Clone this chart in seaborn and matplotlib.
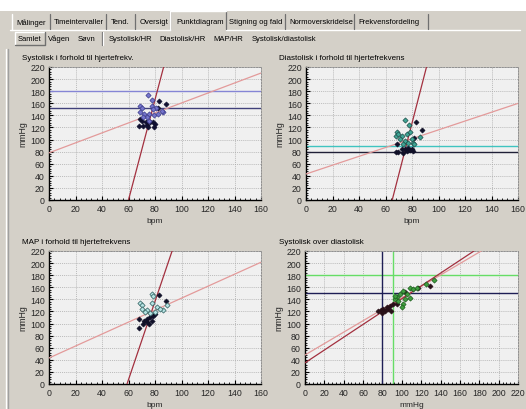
import numpy as np
import pandas as pd
import matplotlib
matplotlib.use("Agg")
import matplotlib.pyplot as plt
from matplotlib.ticker import MultipleLocator
import seaborn as sns

# ---------------- data ----------------
tabs_row1 = ["Målinger", "Timeintervaller", "Tend.", "Oversigt", "Punktdiagram",
             "Stigning og fald", "Normoverskridelse", "Frekvensfordeling"]
tabs_row2 = ["Samlet", "Vågen", "Søvn", "Systolisk/HR", "Diastolisk/HR", "MAP/HR",
             "Systolisk/diastolisk"]

titles = ["Systolisk i forhold til hjertefrekv.", "Diastolisk i forhold til hjertefrekvens",
          "MAP i forhold til hjertefrekvens", "Systolisk over diastolisk"]
xlabels = ["bpm", "bpm", "bpm", "mmHg"]
ylabels = ["mmHg", "mmHg", "mmHg", "mmHg"]
xmaxes = [160, 160, 160, 220]
ymaxes = [220, 220, 220, 220]

# Panel 1: systolic vs HR
sys_hr_a_x = [75, 78, 69, 70, 77.5, 81, 86, 68.7, 71.7, 75.5, 79.5, 73.7, 75.7, 82.5, 85, 71, 78.7]
sys_hr_a_y = [173, 166, 155, 153, 156, 152, 145, 145, 142, 142, 141, 137, 131, 142, 148, 137, 150]
sys_hr_b_x = [83, 88, 82, 68.7, 68, 71, 73.7, 75, 78.7, 80, 79.3, 76, 73, 70.4]
sys_hr_b_y = [163, 158, 153, 133.5, 123, 123, 124.7, 120, 128.5, 126, 120, 128.5, 128.5, 131]

# Panel 2: diastolic vs HR
dia_hr_a_x = [74.7, 77.7, 68.4, 68, 69.7, 72.2, 76, 78.5, 70.9, 74.7, 79.7, 81, 86, 81.7, 73, 77.2]
dia_hr_a_y = [131.6, 124, 113, 106, 109, 106, 109, 112, 101, 98, 101, 95, 104.5, 92, 93, 95]
dia_hr_b_x = [82.7, 87.7, 81.7, 68.4, 68, 69.7, 73.4, 76, 78.5, 79.7, 77.2, 74.7, 72.2, 80.4]
dia_hr_b_y = [129, 116.6, 103, 93, 79, 79, 77.4, 81, 82, 84, 85.7, 84, 84, 80.7]

# Panel 3: MAP vs HR
map_hr_a_x = [77.5, 78.7, 68.7, 70.4, 70, 73.7, 77.5, 81.3, 86.3, 88.8, 76.2, 72.4, 80, 83.8]
map_hr_a_y = [149, 145, 134, 131, 124, 121.6, 133.8, 127, 121.6, 130, 117, 118.8, 118.8, 124]
map_hr_b_x = [83.3, 88.3, 68.2, 68.2, 70.7, 73.7, 75.5, 77.5, 78.7, 80, 73.7, 76.2, 72]
map_hr_b_y = [146.5, 137, 108, 92, 99.5, 102, 99.5, 105, 111.7, 115, 108, 110.5, 105]

# Panel 4: systolic vs diastolic
sys_dia_a_x = [132.8, 124.8, 108.6, 101.7, 98.3, 94.8, 93, 105, 112, 115.5, 101.7, 100, 103.4, 108.6, 95.9, 93]
sys_dia_a_y = [171.6, 166, 158, 154, 148.5, 144, 140, 148.5, 156.8, 158, 132, 127.6, 140, 143, 137.5, 145.8]
sys_dia_b_x = [78.3, 81, 84.5, 87.9, 90.7, 82.8, 88.6, 94.8, 103.4, 117, 129.3, 75.9, 79.3, 86.2]
sys_dia_b_y = [122, 123.8, 127.6, 129, 132, 121, 120, 132, 152, 158, 162, 120, 118, 123.8]

# Reference lines: (intercept, slope)
fit_shallow = [(78, 0.825), (43, 0.73), (43, 0.99), (48, 0.945)]
fit_steep = [(-498, 8.3), (-553, 8.5), (-381, 6.47), (35, 1.06)]
hlines = [[(180, "#8585D5"), (152, "#40407A")],
          [(90, "#3FC4C0"), (80, "#202038")],
          [],
          [(180, "#66DD66"), (150, "#1E1E55")]]
vlines = [[], [], [], [(80, "#1E1E55"), (91, "#66DD66")]]

series = [
    (sys_hr_a_x, sys_hr_a_y, sys_hr_b_x, sys_hr_b_y, "#7575CC", "#3A3A8A"),
    (dia_hr_a_x, dia_hr_a_y, dia_hr_b_x, dia_hr_b_y, "#3FA595", "#1D4D48"),
    (map_hr_a_x, map_hr_a_y, map_hr_b_x, map_hr_b_y, "#B5E3E3", "#2E5E5E"),
    (sys_dia_a_x, sys_dia_a_y, sys_dia_b_x, sys_dia_b_y, "#3FA03F", "#1D5A1D"),
]
dark_colors = ["#101030", "#101028", "#101028", "#281018"]

# ---------------- figure ----------------
sns.set_theme(style="white")
plt.rcParams["font.family"] = ["Liberation Sans", "DejaVu Sans"]

W, H = 526, 410
BG = "#D4D0C8"
fig = plt.figure(figsize=(W / 100, H / 100), dpi=100, facecolor=BG)

bg = fig.add_axes([0, 0, 1, 1], zorder=-5)
bg.set_xlim(0, W)
bg.set_ylim(H, 0)
bg.axis("off")
bg.add_patch(plt.Rectangle((0, 0), W, 12, color="white", lw=0))

TAB_FS = 5.5
# tab row 1
tab_x = [16, 54, 111, 140, 176, 229, 289, 358]
sep1 = [50, 106, 135, 170, 226, 285, 354, 428]
for t, x in zip(tabs_row1, tab_x):
    bg.text(x, 23, t, fontsize=TAB_FS, va="center", ha="left", color="black")
bg.plot([10, 170], [31, 31], color="white", lw=1)
bg.plot([226, 520], [31, 31], color="white", lw=1)
for i, s in enumerate(sep1):
    top = 12 if i in (3, 4) else 15
    bg.plot([s, s], [top, 30], color="#707070", lw=0.9)
bg.plot([12, 12], [15, 31], color="white", lw=1)
bg.plot([170, 170], [12, 31], color="white", lw=1)
bg.plot([170, 226], [12, 12], color="white", lw=1)

# tab row 2
tab2_x = [18, 48, 78, 109, 159, 213, 252]
for t, x in zip(tabs_row2, tab2_x):
    bg.text(x, 39.5, t, fontsize=TAB_FS, va="center", ha="left", color="black")
bg.plot([15, 15, 45], [46, 33, 33], color="white", lw=1)
bg.plot([15, 45, 45], [46, 46, 33], color="#707070", lw=1)
bg.plot([102, 102], [33, 46], color="#707070", lw=0.9)
bg.plot([103, 103], [33, 46], color="white", lw=0.9)

# left panel border
bg.plot([6, 6], [50, H], color="white", lw=1)
bg.plot([8, 8], [50, H], color="#A0A0A0", lw=1)

# axes boxes in pixels: left, top, right, bottom
boxes = [(49, 68, 261, 201), (306, 68, 518, 201), (49, 252, 261, 385), (305, 252, 518, 385)]
title_pos = [(22, 59), (279, 59), (22, 243), (279, 243)]
xlab_y = [222, 222, 406, 406]

for k in range(4):
    l, t, r, b = boxes[k]
    ax = fig.add_axes([l / W, 1 - b / H, (r - l) / W, (b - t) / H])
    ax.set_facecolor("#F0F0F0")
    ax_x, ax_y, bx, by, c_light, c_edge = series[k]
    df_a = pd.DataFrame({"x": ax_x, "y": ax_y})
    df_b = pd.DataFrame({"x": bx, "y": by})

    # reference lines
    for yv, col in hlines[k]:
        ax.axhline(yv, color=col, lw=1, zorder=2)
    for xv, col in vlines[k]:
        ax.axvline(xv, color=col, lw=1, zorder=2)
    b0, m0 = fit_shallow[k]
    ax.axline((0, b0), slope=m0, color="#E39A9A", lw=0.9, zorder=3)
    b1, m1 = fit_steep[k]
    ax.axline((0, b1), slope=m1, color="#A3303F", lw=0.9, zorder=3)

    sns.scatterplot(data=df_b, x="x", y="y", ax=ax, marker="D", s=7,
                    color=dark_colors[k], edgecolor=dark_colors[k], linewidth=0.4, zorder=4)
    sns.scatterplot(data=df_a, x="x", y="y", ax=ax, marker="D", s=7,
                    color=c_light, edgecolor=c_edge, linewidth=0.5, zorder=5)

    ax.set_xlim(0, xmaxes[k])
    ax.set_ylim(0, ymaxes[k])
    ax.xaxis.set_major_locator(MultipleLocator(20))
    ax.yaxis.set_major_locator(MultipleLocator(20))
    ax.xaxis.set_minor_locator(MultipleLocator(4))
    ax.yaxis.set_minor_locator(MultipleLocator(4))
    ax.grid(True, which="major", color="#A8A8A8", lw=0.5, linestyle=(0, (1.5, 1.5)), zorder=1)
    ax.set_axisbelow(True)
    ax.tick_params(which="major", direction="in", length=3, width=0.8, color="black",
                   labelsize=6.3, pad=3, bottom=True, left=True)
    ax.tick_params(which="minor", direction="in", length=1.5, width=0.6, color="black",
                   bottom=True, left=True)
    for side in ["left", "bottom"]:
        ax.spines[side].set_color("black")
        ax.spines[side].set_linewidth(1)
    for side in ["top", "right"]:
        ax.spines[side].set_color("#909090")
        ax.spines[side].set_linewidth(0.7)
        ax.spines[side].set_linestyle((0, (1.5, 1.5)))
    ax.set_xlabel("")
    ax.set_ylabel(ylabels[k], fontsize=6.3, labelpad=1.5)
    tx, ty = title_pos[k]
    bg.text(tx, ty, titles[k], fontsize=5.8, ha="left", va="center", color="black")
    bg.text((l + r) / 2, xlab_y[k], xlabels[k], fontsize=6.0, ha="center", va="center")

fig.savefig("out.png", dpi=100, facecolor=BG)
